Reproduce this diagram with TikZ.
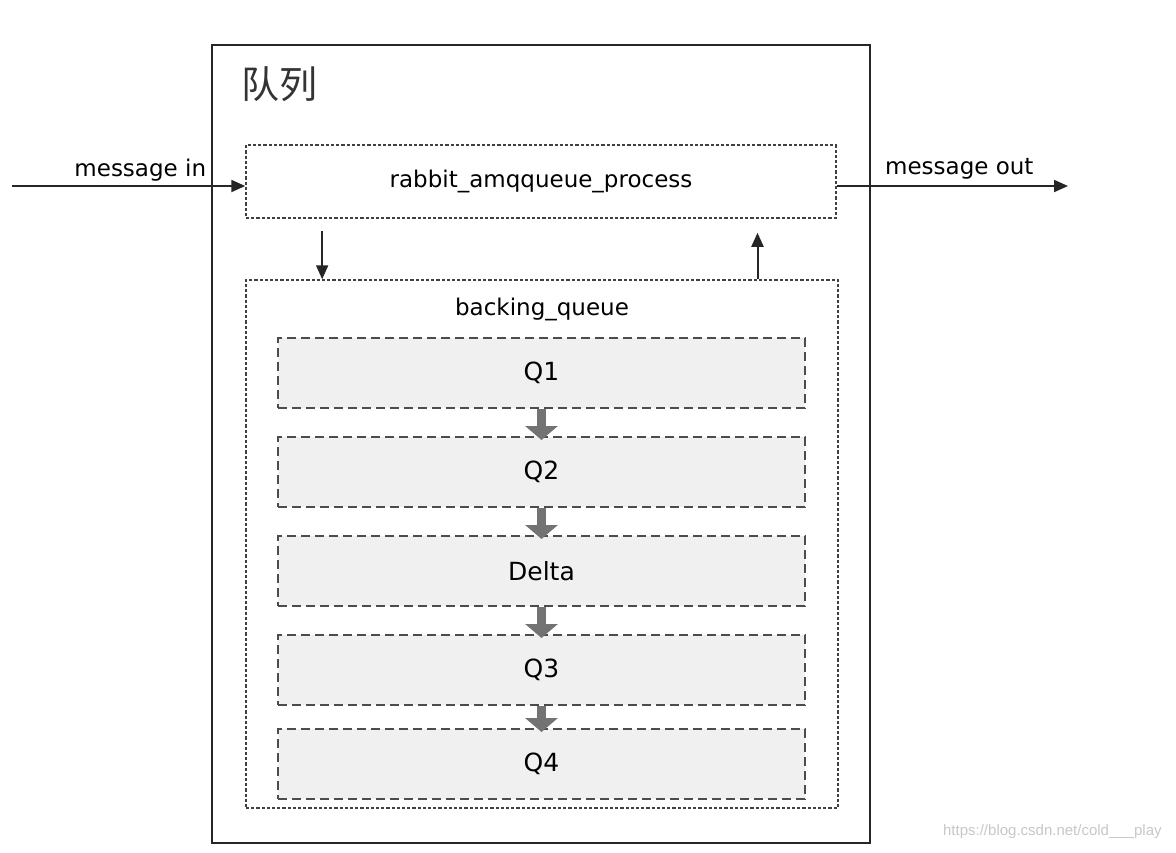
\documentclass[tikz,border=0pt]{standalone}
\usepackage{fontspec}
\setmainfont{DejaVu Sans}
\newfontfamily\cjkfont{Noto Sans CJK SC}
\newfontfamily\wmfont{Liberation Sans}
\usetikzlibrary{arrows.meta,positioning,calc}

\begin{document}
\begin{tikzpicture}[
    x=0.5pt, y=-0.5pt,
    font=\fontsize{11.5}{13}\selectfont,
    node distance=13.5pt,
    frame/.style={
        draw=black!85,
        line width=0.9pt,
        minimum width=329pt,
        minimum height=399pt
    },
    procbox/.style={
        draw=black!75,
        line width=0.75pt,
        dash pattern=on 1.6pt off 1pt,
        minimum width=295pt,
        minimum height=36.5pt
    },
    backbox/.style={
        draw=black!75,
        line width=0.75pt,
        dash pattern=on 1.6pt off 1pt,
        minimum width=296pt,
        minimum height=264pt
    },
    qbox/.style={
        draw=black!70,
        fill=black!6,
        line width=1pt,
        dash pattern=on 4.5pt off 2.5pt,
        minimum width=263.5pt,
        minimum height=35pt,
        font=\fontsize{12.5}{14}\selectfont
    },
    flow/.style={-{Triangle[length=7pt,width=6pt]}, line width=1pt, draw=black!85},
    fat/.style={-{Triangle[length=7pt,width=16pt]}, line width=4.5pt, draw=black!55}
]
\useasboundingbox (0,0) rectangle (1176,852);

% outer queue frame
\node[frame] (queue) at (541,444) {};
\node[anchor=north west, inner sep=0pt, text=black!80, font=\cjkfont\fontsize{19}{21}\selectfont]
    (title) at ([xshift=15pt,yshift=-11pt]queue.north west) {队列};

% process box and backing queue
\node[procbox] (proc) at (541,181.5) {rabbit\_amqqueue\_process};
\node[backbox] (backing) at (542,544) {};
\node[anchor=north, inner sep=0pt] (backlabel) at ([yshift=-9pt]backing.north) {backing\_queue};

% inner queues
\node[qbox] (q1) at (541.5,373) {Q1};
\node[qbox, below=of q1] (q2) {Q2};
\node[qbox, below=of q2] (delta) {Delta};
\node[qbox, below=of delta] (q3) {Q3};
\node[qbox, below=11pt of q3] (q4) {Q4};

\foreach \a/\b in {q1/q2, q2/delta, delta/q3, q3/q4}
    \draw[fat, shorten >=-2pt] (\a.south) -- (\b.north);

% message flow
\coordinate (inL) at (12,186);
\coordinate (outR) at (1068,186);
\draw[flow] (inL) -- node[above, pos=0.55, inner sep=2pt] (inlabel) {message in} (proc.west |- inL);
\draw[flow] (proc.east |- outR) -- node[above, pos=0.53, inner sep=3pt] (outlabel) {message out} (outR);

\coordinate (dn) at ($(proc.south west)!0.13!(proc.south east)$);
\coordinate (up) at ($(proc.south west)!0.866!(proc.south east)$);
\draw[flow, shorten <=6pt] (dn) -- (dn |- backing.north);
\draw[flow, shorten >=7pt] (up |- backing.north) -- (up);

\node[anchor=east, inner sep=0pt, text=black!22, font=\wmfont\fontsize{7.5}{9}\selectfont]
    (mark) at (1162,832) {https://blog.csdn.net/cold\_\_\_play};
\end{tikzpicture}
\end{document}
